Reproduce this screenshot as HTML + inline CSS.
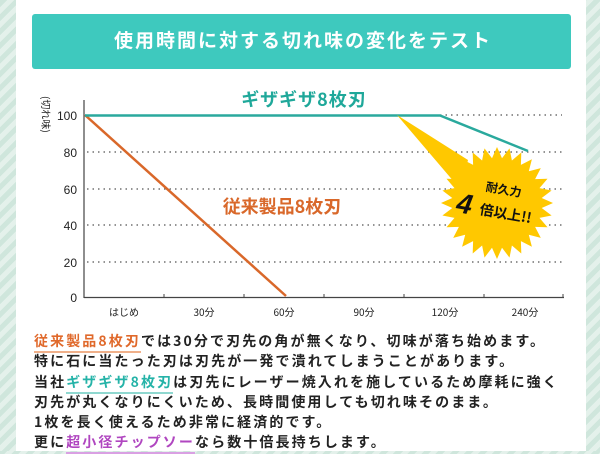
<!DOCTYPE html>
<html><head><meta charset="utf-8"><style>
html,body{margin:0;padding:0;}
body{width:600px;height:451px;overflow:hidden;position:relative;font-family:"Liberation Sans","Noto Sans CJK JP",sans-serif;
background:repeating-linear-gradient(135deg,#cfe6dc 0 5px,#e4f1eb 5px 10px);}
.main{position:absolute;left:16px;top:0;width:570px;height:451px;background:#fff;}
.txt{position:absolute;left:34px;top:331px;font-size:14px;font-weight:bold;color:#222;line-height:20.3px;letter-spacing:2.1px;white-space:nowrap;font-family:"Noto Sans CJK JP",sans-serif;}
.o{color:#e0692b;border-bottom:2px solid #f0b08a;}
.t{color:#25b3a8;border-bottom:2px solid #8fd8d0;}
.p{color:#b046c0;border-bottom:2px solid #d9a0e3;}
</style></head><body>
<div class="main"></div>
<svg width="600" height="451" style="position:absolute;left:0;top:0" font-family="Noto Sans CJK JP, sans-serif">
<rect x="32" y="14" width="539" height="55" rx="3" fill="#3ec9be"/>
<text x="303" y="47" text-anchor="middle" fill="#fff" font-size="19" font-weight="bold" letter-spacing="2">使用時間に対する切れ味の変化をテスト</text>
<g stroke="#555" stroke-width="1.3" stroke-dasharray="1.5 4">
<line x1="87" y1="152" x2="562" y2="152"/><line x1="87" y1="189" x2="562" y2="189"/>
<line x1="87" y1="225" x2="562" y2="225"/><line x1="87" y1="262" x2="562" y2="262"/>
<line x1="440" y1="115" x2="562" y2="115"/>
</g>
<line x1="84" y1="100" x2="84" y2="298" stroke="#444" stroke-width="1.2"/>
<line x1="84" y1="297.5" x2="564" y2="297.5" stroke="#444" stroke-width="1.2"/>
<g stroke="#444" stroke-width="1"><line x1="164" y1="294" x2="164" y2="298"/><line x1="244" y1="294" x2="244" y2="298"/><line x1="324" y1="294" x2="324" y2="298"/><line x1="404" y1="294" x2="404" y2="298"/><line x1="484" y1="294" x2="484" y2="298"/><line x1="563" y1="294" x2="563" y2="298"/></g>
<g font-size="12" fill="#222" text-anchor="end" font-family="Liberation Sans, sans-serif">
<text x="77" y="120">100</text><text x="77" y="157">80</text><text x="77" y="194">60</text><text x="77" y="230">40</text><text x="77" y="267">20</text><text x="77" y="302">0</text></g>
<text font-size="10" fill="#222" transform="translate(42,96) rotate(90)">(切れ味)</text>
<g font-size="10" fill="#222" text-anchor="middle"><text x="124" y="316">はじめ</text><text x="204" y="316">30分</text><text x="284" y="316">60分</text><text x="364" y="316">90分</text><text x="445" y="316">120分</text><text x="525" y="316">240分</text></g>
<line x1="85" y1="115" x2="286" y2="296" stroke="#d9682a" stroke-width="2.5"/>
<polyline points="85,115.5 440,115.5 528,151" fill="none" stroke="#2aa99d" stroke-width="2.5"/>
<text x="304" y="106" text-anchor="middle" fill="#1fa89a" font-size="18" font-weight="bold" letter-spacing="1">ギザギザ8枚刃</text>
<text x="282" y="213" text-anchor="middle" fill="#d9682a" font-size="18" font-weight="bold">従来製品8枚刃</text>
<polygon id="star" fill="#ffc800" points=""/>
<g transform="translate(497,205) rotate(10)" fill="#111" font-weight="bold" text-anchor="middle">
<text x="4" y="-12" font-size="12">耐久力</text>
<text x="-32" y="14" font-size="28" font-style="italic" font-family="Liberation Sans, sans-serif">4</text>
<text x="10" y="12" font-size="14">倍以上!!</text>
</g>
</svg>
<script>
var cx=497,cy=203,n=28,pts=[];
for(var i=0;i<n*2;i++){var r=i%2?45:56,a=i*Math.PI/n;pts.push((cx+r*Math.cos(a)).toFixed(1)+','+(cy+r*Math.sin(a)).toFixed(1));}
var s=document.getElementById('star');
var p=pts.slice();
var idx=Math.round((220/360)*n*2);
p.splice(idx,1,'455,183','397,115','468,160');
s.setAttribute('points',p.join(' '));
</script>
<div class="txt">
<span class="o">従来製品8枚刃</span>では30分で刃先の角が無くなり、切味が落ち始めます。<br>
特に石に当たった刃は刃先が一発で潰れてしまうことがあります。<br>
当社<span class="t">ギザギザ8枚刃</span>は刃先にレーザー焼入れを施しているため摩耗に強く<br>
刃先が丸くなりにくいため、長時間使用しても切れ味そのまま。<br>
1枚を長く使えるため非常に経済的です。<br>
更に<span class="p">超小径チップソー</span>なら数十倍長持ちします。
</div>
</body></html>
